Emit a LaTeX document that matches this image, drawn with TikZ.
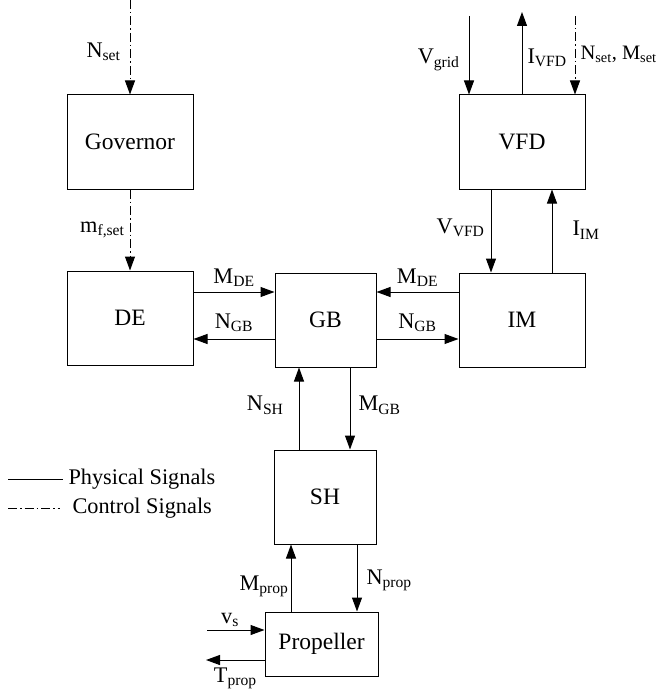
\documentclass[tikz,border=0pt]{standalone}
\usepackage{fontspec}
\setmainfont{Liberation Serif}
\usetikzlibrary{arrows.meta}
\begin{document}
\begin{tikzpicture}[x=1pt,y=-1pt,
  blk/.style={draw,line width=1pt,rectangle,inner sep=0pt,minimum width=126pt,
    minimum height=94pt,font=\fontsize{23.5}{26}\selectfont},
  sig/.style={line width=1pt,-{Triangle[length=14pt,width=10pt]}},
  ctrlpat/.style={line width=1pt,dash pattern=on 9pt off 3pt on 1.5pt off 3pt},
  ctrl/.style={sig,ctrlpat},
  lbl/.style={font=\fontsize{22.3}{25}\selectfont,inner sep=2pt}]
% drive train blocks, signal arrows and legend
\useasboundingbox (0,0) rectangle (664,698);
\node[blk] (gov) at (130,142) {Governor};
\node[blk] (de) at (130,318) {DE};
\node[blk,minimum width=101pt] (gb) at (325.5,320) {GB};
\node[blk] (im) at (522,320) {IM};
\node[blk] (vfd) at (522,142) {VFD};
\node[blk,minimum width=102pt] (sh) at (325,497) {SH};
\node[blk,minimum width=113pt,minimum height=64pt] (prop) at (321.5,644) {Propeller};
\coordinate (nsetA) at (130,0);
\coordinate (vgrid) at (469,16);
\coordinate (ivfd) at (522,12);
\coordinate (nsetB) at (575,16);
\coordinate (vs) at (207,630);
\coordinate (tprop) at (206,660);
\draw[ctrl] (nsetA) -- (gov.north) node[lbl,left=7pt,pos=0.55] {N\textsubscript{set}};
\draw[ctrl] (gov.south) -- (de.north) node[lbl,left=3pt,pos=0.5] {m\textsubscript{f,set}};
\draw[sig] ([yshift=26pt]de.east) -- ([yshift=26pt]de.east -| gb.west)
  node[lbl,above=3pt,midway] {M\textsubscript{DE}};
\draw[sig] ([yshift=-19pt]gb.west) -- ([yshift=-19pt]gb.west -| de.east)
  node[lbl,above=5pt,midway] {N\textsubscript{GB}};
\draw[sig] ([yshift=28pt]im.west) -- ([yshift=28pt]im.west -| gb.east)
  node[lbl,above=3pt,midway] {M\textsubscript{DE}};
\draw[sig] ([yshift=-19pt]gb.east) -- ([yshift=-19pt]gb.east -| im.west)
  node[lbl,above=5pt,midway] {N\textsubscript{GB}};
\draw[sig] ([xshift=-26pt]sh.north) -- ([xshift=-26pt]sh.north |- gb.south)
  node[lbl,left=13pt,pos=0.54] {N\textsubscript{SH}};
\draw[sig] ([xshift=24.5pt]gb.south) -- ([xshift=24.5pt]gb.south |- sh.north)
  node[lbl,right=6pt,pos=0.46] {M\textsubscript{GB}};
\draw[sig] ([xshift=-30.5pt]prop.north) -- ([xshift=-30.5pt]prop.north |- sh.south)
  node[lbl,left=0pt,pos=0.38] {M\textsubscript{prop}};
\draw[sig] ([xshift=32pt]sh.south) -- ([xshift=32pt]sh.south |- prop.north)
  node[lbl,right=7pt,pos=0.53] {N\textsubscript{prop}};
\draw[sig] (vs) -- (vs -| prop.west) node[lbl,above=1pt,pos=0.4] {v\textsubscript{s}};
\draw[sig] ([yshift=-16pt]prop.west) -- (tprop) node[lbl,below=5pt,midway] {T\textsubscript{prop}};
\draw[sig] (vgrid) -- (vgrid |- vfd.north) node[lbl,left=7pt,pos=0.56] {V\textsubscript{grid}};
\draw[sig] (ivfd |- vfd.north) -- (ivfd) node[lbl,right=3pt,pos=0.45] {I\textsubscript{VFD}};
\draw[ctrl] (nsetB) -- (nsetB |- vfd.north)
  node[lbl,right=4pt,pos=0.49,inner sep=1pt,font=\fontsize{20.5}{24}\selectfont]
  {N\textsubscript{set}, M\textsubscript{set}};
\draw[sig] ([xshift=-31pt]vfd.south) -- ([xshift=-31pt]vfd.south |- im.north)
  node[lbl,left=4pt,pos=0.46] {V\textsubscript{VFD}};
\draw[sig] ([xshift=30pt]im.north) -- ([xshift=30pt]im.north |- vfd.south)
  node[lbl,right=18pt,pos=0.51] {I\textsubscript{IM}};
\coordinate (phyA) at (8,479);
\coordinate (phyB) at (63,479);
\coordinate (ctlA) at (8,508);
\coordinate (ctlB) at (60,508);
\draw[line width=1pt] (phyA) -- (phyB) node[lbl,right=3pt] {Physical Signals};
\draw[ctrlpat] (ctlA) -- (ctlB) node[lbl,right=10pt] {Control Signals};
\end{tikzpicture}
\end{document}
